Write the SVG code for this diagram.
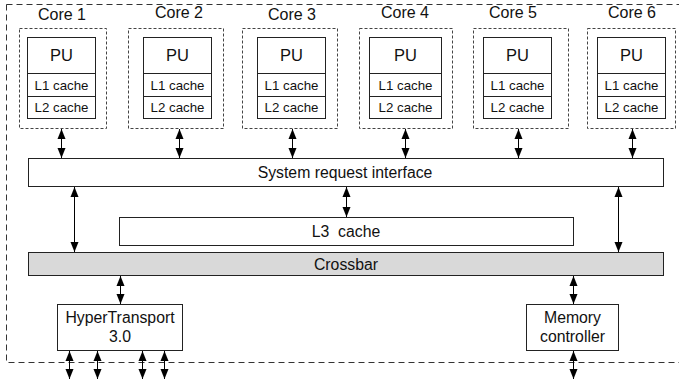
<svg xmlns="http://www.w3.org/2000/svg" width="679" height="379" viewBox="0 0 679 379">
<style>
text{font-family:"Liberation Sans",Arial,sans-serif;fill:#111;text-anchor:middle}
.outer{fill:none;stroke:#333;stroke-width:1;stroke-dasharray:6,4}
.core{fill:none;stroke:#444;stroke-width:1;stroke-dasharray:3,2}
.box{fill:#fff;stroke:#222;stroke-width:1}
.xbar{fill:#d9d9d9;stroke:#222;stroke-width:1}
.c{stroke:#000;stroke-width:1;fill:none;marker-start:url(#ah);marker-end:url(#ah)}
.lbl{font-size:16px}
.pu{font-size:16.5px}
.sm{font-size:13.3px}
.md{font-size:15.8px}
</style>
<defs>
<marker id="ah" viewBox="0 0 10 10" refX="10" refY="5" markerWidth="10" markerHeight="10" markerUnits="userSpaceOnUse" orient="auto-start-reverse">
<path d="M0,1 L10,5 L0,9 Z" fill="#000"/>
</marker>
</defs>
<rect class="outer" x="6.5" y="4.5" width="690" height="358"/>

<g id="core1">
<rect class="core" x="19.5" y="28.5" width="87" height="100"/>
<text class="lbl" x="62" y="20">Core 1</text>
<rect class="box" x="27.5" y="37.5" width="68" height="36"/>
<rect class="box" x="27.5" y="73.5" width="68" height="23"/>
<rect class="box" x="27.5" y="96.5" width="68" height="22"/>
<text class="pu" x="61.5" y="61">PU</text>
<text class="sm" x="61.5" y="90">L1 cache</text>
<text class="sm" x="61.5" y="112">L2 cache</text>
</g>
<g id="core2">
<rect class="core" x="128.5" y="28.5" width="95" height="100"/>
<text class="lbl" x="179" y="18">Core 2</text>
<rect class="box" x="143.5" y="37.5" width="68" height="36"/>
<rect class="box" x="143.5" y="73.5" width="68" height="23"/>
<rect class="box" x="143.5" y="96.5" width="68" height="22"/>
<text class="pu" x="177.5" y="61">PU</text>
<text class="sm" x="177.5" y="90">L1 cache</text>
<text class="sm" x="177.5" y="112">L2 cache</text>
</g>
<g id="core3">
<rect class="core" x="242.5" y="28.5" width="95" height="100"/>
<text class="lbl" x="292" y="20">Core 3</text>
<rect class="box" x="257.5" y="37.5" width="68" height="36"/>
<rect class="box" x="257.5" y="73.5" width="68" height="23"/>
<rect class="box" x="257.5" y="96.5" width="68" height="22"/>
<text class="pu" x="291.5" y="61">PU</text>
<text class="sm" x="291.5" y="90">L1 cache</text>
<text class="sm" x="291.5" y="112">L2 cache</text>
</g>
<g id="core4">
<rect class="core" x="359.5" y="28.5" width="93" height="100"/>
<text class="lbl" x="405" y="18">Core 4</text>
<rect class="box" x="369.5" y="37.5" width="72" height="36"/>
<rect class="box" x="369.5" y="73.5" width="72" height="23"/>
<rect class="box" x="369.5" y="96.5" width="72" height="22"/>
<text class="pu" x="405.5" y="61">PU</text>
<text class="sm" x="405.5" y="90">L1 cache</text>
<text class="sm" x="405.5" y="112">L2 cache</text>
</g>
<g id="core5">
<rect class="core" x="473.5" y="28.5" width="95" height="100"/>
<text class="lbl" x="513" y="18">Core 5</text>
<rect class="box" x="483.5" y="37.5" width="68" height="36"/>
<rect class="box" x="483.5" y="73.5" width="68" height="23"/>
<rect class="box" x="483.5" y="96.5" width="68" height="22"/>
<text class="pu" x="517.5" y="61">PU</text>
<text class="sm" x="517.5" y="90">L1 cache</text>
<text class="sm" x="517.5" y="112">L2 cache</text>
</g>
<g id="core6">
<rect class="core" x="587.5" y="28.5" width="88" height="100"/>
<text class="lbl" x="632" y="18">Core 6</text>
<rect class="box" x="597.5" y="37.5" width="68" height="36"/>
<rect class="box" x="597.5" y="73.5" width="68" height="23"/>
<rect class="box" x="597.5" y="96.5" width="68" height="22"/>
<text class="pu" x="631.5" y="61">PU</text>
<text class="sm" x="631.5" y="90">L1 cache</text>
<text class="sm" x="631.5" y="112">L2 cache</text>
</g>

<g id="sri">
<rect class="box" x="28.5" y="158.5" width="635" height="28"/>
<text class="md" x="345" y="178">System request interface</text>
</g>
<g id="l3">
<rect class="box" x="119.5" y="217.5" width="454" height="28"/>
<text class="md" x="346" y="237">L3&#160; cache</text>
</g>
<g id="crossbar">
<rect class="xbar" x="28.5" y="252.5" width="635" height="23"/>
<text class="md" x="346" y="269.5">Crossbar</text>
</g>
<g id="ht">
<rect class="box" x="57.5" y="304.5" width="125" height="46"/>
<text class="md" x="120" y="323">HyperTransport</text>
<text class="md" x="120" y="342">3.0</text>
</g>
<g id="mc">
<rect class="box" x="526.5" y="304.5" width="92" height="46"/>
<text class="md" x="572.5" y="323">Memory</text>
<text class="md" x="572.5" y="342">controller</text>
</g>

<g id="connectors">
<line class="c" x1="61.5" y1="129" x2="61.5" y2="158"/>
<line class="c" x1="179.5" y1="129" x2="179.5" y2="158"/>
<line class="c" x1="292.5" y1="129" x2="292.5" y2="158"/>
<line class="c" x1="405.5" y1="129" x2="405.5" y2="158"/>
<line class="c" x1="518.5" y1="129" x2="518.5" y2="158"/>
<line class="c" x1="632.5" y1="129" x2="632.5" y2="158"/>
<line class="c" x1="74.5" y1="187" x2="74.5" y2="252"/>
<line class="c" x1="618.5" y1="187" x2="618.5" y2="252"/>
<line class="c" x1="346.5" y1="187" x2="346.5" y2="217"/>
<line class="c" x1="120.5" y1="276" x2="120.5" y2="304"/>
<line class="c" x1="573.5" y1="276" x2="573.5" y2="304"/>
<line class="c" x1="69.5" y1="351" x2="69.5" y2="379"/>
<line class="c" x1="97.5" y1="351" x2="97.5" y2="379"/>
<line class="c" x1="142.5" y1="351" x2="142.5" y2="379"/>
<line class="c" x1="164.5" y1="351" x2="164.5" y2="379"/>
<line class="c" x1="573.5" y1="351" x2="573.5" y2="379"/>
</g>
</svg>
